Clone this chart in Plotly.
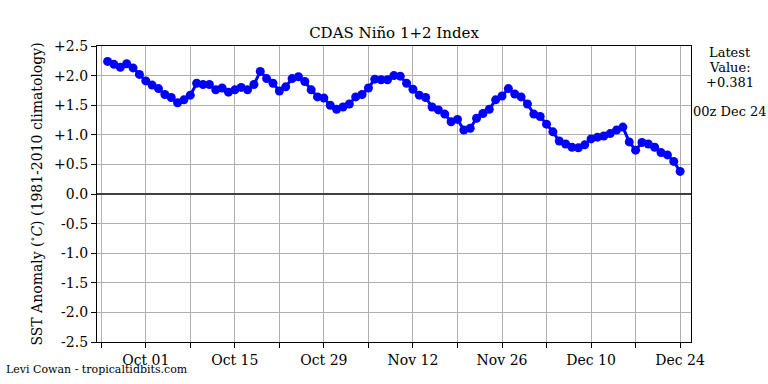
import plotly.graph_objects as go
import pandas as pd

start_date = "2023-09-25"
anomaly = [2.24, 2.19, 2.14, 2.20, 2.13, 2.02, 1.91, 1.84, 1.78, 1.68,
           1.63, 1.54, 1.59, 1.67, 1.87, 1.85, 1.85, 1.76, 1.79, 1.72,
           1.76, 1.80, 1.76, 1.85, 2.07, 1.95, 1.87, 1.74, 1.81, 1.95,
           1.98, 1.90, 1.76, 1.64, 1.62, 1.50, 1.43, 1.47, 1.52, 1.64,
           1.68, 1.79, 1.94, 1.93, 1.93, 2.00, 1.99, 1.87, 1.77, 1.67,
           1.63, 1.47, 1.42, 1.35, 1.22, 1.26, 1.08, 1.11, 1.28, 1.36,
           1.43, 1.59, 1.655, 1.78, 1.69, 1.64, 1.52, 1.35, 1.31, 1.18,
           1.05, 0.895, 0.845, 0.79, 0.78, 0.83, 0.93, 0.96, 0.98, 1.02,
           1.08, 1.13, 0.88, 0.74, 0.87, 0.845, 0.79, 0.70, 0.66, 0.55,
           0.381]
dates = pd.date_range(start_date, periods=len(anomaly), freq="D")

ytick_vals = [2.5, 2.0, 1.5, 1.0, 0.5, 0.0, -0.5, -1.0, -1.5, -2.0, -2.5]
ytick_text = ["+2.5", "+2.0", "+1.5", "+1.0", "+0.5", "0.0", "-0.5", "-1.0", "-1.5", "-2.0", "-2.5"]

FONT = "DejaVu Serif"
DAY = 86400000

fig = go.Figure()
fig.add_trace(go.Scatter(
    x=dates, y=anomaly, mode="lines+markers",
    line=dict(color="#0000ff", width=3),
    marker=dict(color="#0000ff", size=9),
    showlegend=False, hoverinfo="x+y",
))

L, R, T, B = 97, 691, 46, 342
W, H = 768, 384

def px(x):
    return (x - L) / (R - L)

def py(y):
    return (B - y) / (B - T)

fig.update_layout(
    width=W, height=H,
    margin=dict(l=L, r=W - R, t=T, b=H - B, pad=0),
    paper_bgcolor="white", plot_bgcolor="white",
    font=dict(family=FONT, size=13, color="black"),
    title=dict(text="CDAS Niño 1+2 Index", x=(L + R) / 2 / W, xanchor="center",
               y=1 - 33 / H, yanchor="middle", font=dict(size=15, family=FONT)),
    xaxis=dict(
        type="date",
        range=["2023-09-23 08:00", "2023-12-25 17:00"],
        tick0="2023-10-01", dtick=14 * DAY, tickformat="%b %d",
        ticks="outside", ticklen=5, tickcolor="black",
        showgrid=True, gridcolor="#b0b0b0", gridwidth=1,
        minor=dict(tick0="2023-09-24", dtick=7 * DAY, ticks="outside", ticklen=5,
                   tickcolor="black", showgrid=True, gridcolor="#b0b0b0", gridwidth=1),
        showline=True, linecolor="black", linewidth=1.3, mirror=True,
        tickfont=dict(size=14, family=FONT),
        zeroline=False, automargin=False,
    ),
    yaxis=dict(
        range=[-2.5, 2.5],
        tickvals=ytick_vals, ticktext=ytick_text,
        ticks="outside", ticklen=5, tickcolor="black",
        showgrid=True, gridcolor="#b0b0b0", gridwidth=1,
        showline=True, linecolor="black", linewidth=1.3, mirror=True,
        zeroline=True, zerolinecolor="#404040", zerolinewidth=1.5,
        tickfont=dict(size=14, family=FONT), automargin=False,
        title=dict(text="SST Anomaly (<sup>∘</sup><i>C</i>) (1981-2010 climatology)",
                   font=dict(size=14, family=FONT), standoff=8),
    ),
)

ann = [
    ("Latest", 52), ("Value:", 67), ("+0.381", 82), ("00z Dec 24", 111),
]
for text, yy in ann:
    fig.add_annotation(text=text, xref="paper", yref="paper", x=px(730), y=py(yy),
                       xanchor="center", yanchor="middle", showarrow=False,
                       font=dict(size=13, family=FONT))

fig.add_annotation(text="Levi Cowan - tropicaltidbits.com", xref="paper", yref="paper",
                   x=px(4), y=py(369), xanchor="left", yanchor="middle", showarrow=False,
                   font=dict(size=11, family=FONT))

fig.write_html("out.html", config={"displayModeBar": False},
               post_script="document.body.style.margin='0';document.body.style.overflow='hidden';")
